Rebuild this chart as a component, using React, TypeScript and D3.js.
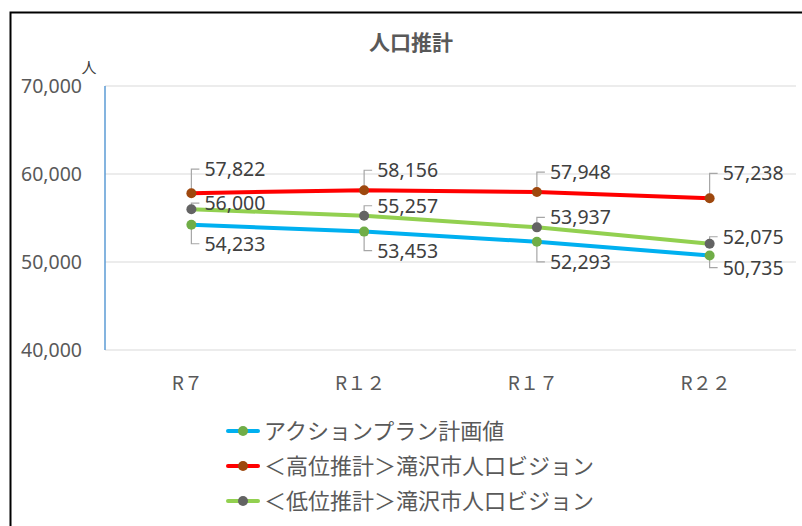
import React from "react";
import * as d3 from "d3";

const categories = ["R７", "R１２", "R１７", "R２２"];
const seriesNames = [
  "アクションプラン計画値",
  "＜高位推計＞滝沢市人口ビジョン",
  "＜低位推計＞滝沢市人口ビジョン",
];
const actionPlan = [54233, 53453, 52293, 50735];
const highEstimate = [57822, 58156, 57948, 57238];
const lowEstimate = [56000, 55257, 53937, 52075];
const yTicks = [40000, 50000, 60000, 70000];

// layout: label vertical offsets (px) from point
const labelOffsets = [
  [19, 19, 20, 12],
  [-24, -20, -20, -25],
  [-6, -10, -10, -7],
];

const lineColors = ["#00B0F0", "#FF0000", "#92D050"];
const markerColors = ["#70AD47", "#9E480E", "#636363"];
const FONT = "'Noto Sans CJK JP', 'Noto Sans', sans-serif";
const NUMFONT = "'Noto Sans', 'Noto Sans CJK JP', sans-serif";

export default function App() {
  const W = 802, H = 526;
  const x = d3.scalePoint<string>().domain(categories).range([105, 796]).padding(0.5);
  const y = d3.scaleLinear().domain([40000, 70000]).range([350, 86]);
  const data = [actionPlan, highEstimate, lowEstimate];
  const fmt = d3.format(",");
  const line = d3
    .line<number>()
    .x((_, i) => x(categories[i]) as number)
    .y((d) => y(d));

  return (
    <svg width={W} height={H} style={{ position: "absolute", left: 0, top: 0 }} fontFamily={FONT}>
      <rect x={0} y={0} width={W} height={H} fill="#fff" />
      <rect x={10.5} y={12.5} width={820} height={560} fill="none" stroke="#000" strokeWidth={2} />
      <text x={411} y={50} textAnchor="middle" fontSize={21} fontWeight="bold" fill="#595959">
        人口推計
      </text>
      {yTicks.map((t) => (
        <g key={t}>
          <line x1={105} x2={796} y1={y(t)} y2={y(t)} stroke="#D9D9D9" strokeWidth={1.2} />
          <text x={82} y={y(t)} dy="0.36em" textAnchor="end" fontSize={19.5} fill="#595959" fontFamily={NUMFONT}>
            {fmt(t)}
          </text>
        </g>
      ))}
      <line x1={105} x2={105} y1={86} y2={350} stroke="#5B9BD5" strokeWidth={1.5} />
      <text x={89} y={73} textAnchor="middle" fontSize={15} fill="#404040">人</text>
      {categories.map((c) => (
        <text key={c} x={(x(c) as number) - 4} y={390} textAnchor="middle" fontSize={19} fill="#595959">
          {c}
        </text>
      ))}
      {data.map((s, si) => (
        <path key={si} d={line(s) || ""} fill="none" stroke={lineColors[si]} strokeWidth={4} strokeLinejoin="round" />
      ))}
      {data.map((s, si) =>
        s.map((v, i) => {
          const px = x(categories[i]) as number;
          const py = y(v);
          const off = labelOffsets[si][i];
          const ly = py + off;
          const startY = off < 0 ? py - 4 : py + 4;
          return (
            <g key={`${si}-${i}`}>
              <polyline
                points={`${px},${startY} ${px},${ly} ${px + 8},${ly}`}
                fill="none"
                stroke="#A6A6A6"
                strokeWidth={1.2}
              />
              <circle cx={px} cy={py} r={5} fill={markerColors[si]} />
              <text x={px + 13} y={ly} dy="0.36em" fontSize={19.5} fill="#404040" fontFamily={NUMFONT}>
                {fmt(v)}
              </text>
            </g>
          );
        })
      )}
      {seriesNames.map((n, si) => {
        const ly = 431 + si * 35;
        return (
          <g key={n}>
            <line x1={228} x2={258} y1={ly} y2={ly} stroke={lineColors[si]} strokeWidth={4} strokeLinecap="round" />
            <circle cx={243} cy={ly} r={5} fill={markerColors[si]} />
            <text x={264} y={ly} dy="0.36em" fontSize={22} fill="#595959">
              {n}
            </text>
          </g>
        );
      })}
    </svg>
  );
}
